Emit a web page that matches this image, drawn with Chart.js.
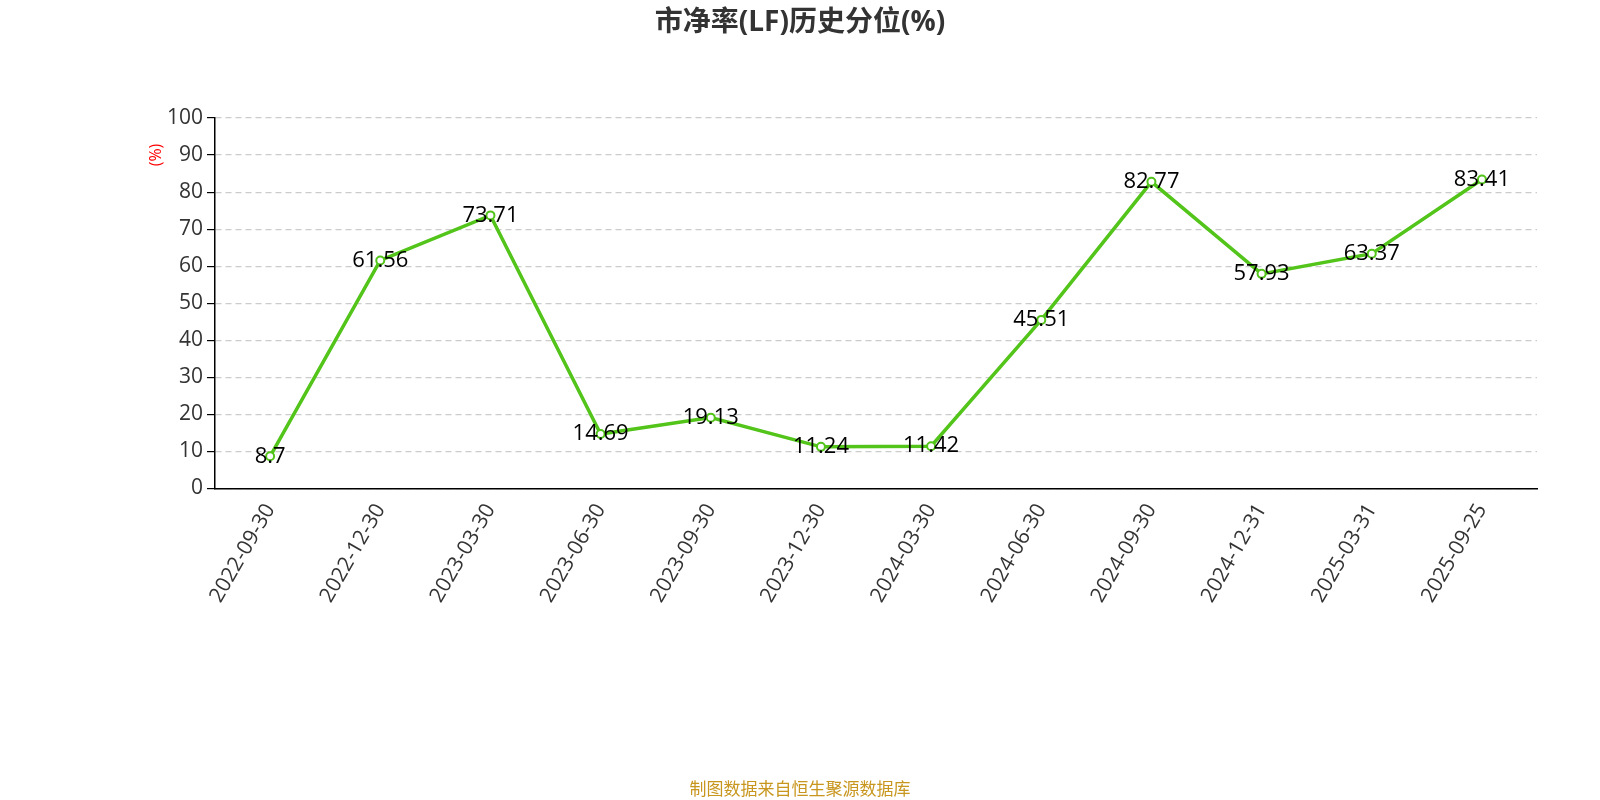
<!DOCTYPE html>
<html lang="zh-CN">
<head>
    <meta charset="UTF-8">
    <title>市净率(LF)历史分位(%)</title>
    <script src="https://cdn.jsdelivr.net/npm/chart.js"></script>
    <style>
        body { margin: 0; background: #fff; }
        .box { width: 1600px; height: 800px; }
    </style>
</head>
<body>
    <div class="box"><canvas id="pbChart"></canvas></div>
    <script>
        // 数据
        const dates = ['2022-09-30', '2022-12-30', '2023-03-30', '2023-06-30', '2023-09-30', '2023-12-30',
            '2024-03-30', '2024-06-30', '2024-09-30', '2024-12-31', '2025-03-31', '2025-09-25'];
        const pbPercentile = [8.7, 61.56, 73.71, 14.69, 19.13, 11.24, 11.42, 45.51, 82.77, 57.93, 63.37, 83.41];
        const yTicks = [0, 10, 20, 30, 40, 50, 60, 70, 80, 90, 100];

        const font = "'Open Sans', 'Noto Sans CJK SC', sans-serif";

        // 标题、单位、来源、数值标签
        const extras = {
            id: 'extras',
            afterDatasetsDraw(chart) {
                const ctx = chart.ctx;
                const meta = chart.getDatasetMeta(0);
                ctx.save();
                ctx.font = '22px ' + font;
                ctx.fillStyle = '#000';
                ctx.textAlign = 'center';
                ctx.textBaseline = 'middle';
                meta.data.forEach((pt, i) => {
                    ctx.fillText(String(pbPercentile[i]), pt.x, pt.y);
                });
                ctx.font = 'bold 28px ' + font;
                ctx.fillStyle = '#333';
                ctx.fillText('市净率(LF)历史分位(%)', 800, 23);
                ctx.font = '17px ' + font;
                ctx.fillStyle = '#c8961e';
                ctx.fillText('制图数据来自恒生聚源数据库', 800, 790);
                ctx.translate(156, 155);
                ctx.rotate(-Math.PI / 2);
                ctx.fillStyle = 'red';
                ctx.font = '16px ' + font;
                ctx.fillText('(%)', 0, 0);
                ctx.restore();
            }
        };

        new Chart(document.getElementById('pbChart'), {
            type: 'line',
            data: {
                labels: dates,
                datasets: [{
                    data: pbPercentile,
                    borderColor: '#52c41a',
                    borderWidth: 3.5,
                    pointRadius: 4,
                    pointBorderWidth: 2,
                    pointBackgroundColor: '#fff',
                    pointBorderColor: '#52c41a',
                    tension: 0
                }]
            },
            options: {
                responsive: true,
                maintainAspectRatio: false,
                animation: false,
                layout: { padding: { left: 163, right: 63, top: 118, bottom: 190 } },
                plugins: { legend: { display: false }, tooltip: { enabled: false } },
                scales: {
                    x: {
                        offset: true,
                        grid: { display: false, drawOnChartArea: false, tickLength: 8, color: '#000' },
                        border: { color: '#000', width: 1.5 },
                        ticks: { color: '#333', font: { size: 21, family: font }, maxRotation: 60, minRotation: 60 }
                    },
                    y: {
                        min: 0, max: 100,
                        afterBuildTicks: axis => { axis.ticks = yTicks.map(v => ({ value: v })); },
                        grid: { color: '#ccc', tickColor: '#000', tickLength: 8, lineWidth: 1.2 },
                        border: { color: '#000', width: 1.5, dash: [6, 4] },
                        ticks: { color: '#333', font: { size: 21, family: font }, padding: 4 }
                    }
                }
            },
            plugins: [extras]
        });
    </script>
</body>
</html>
